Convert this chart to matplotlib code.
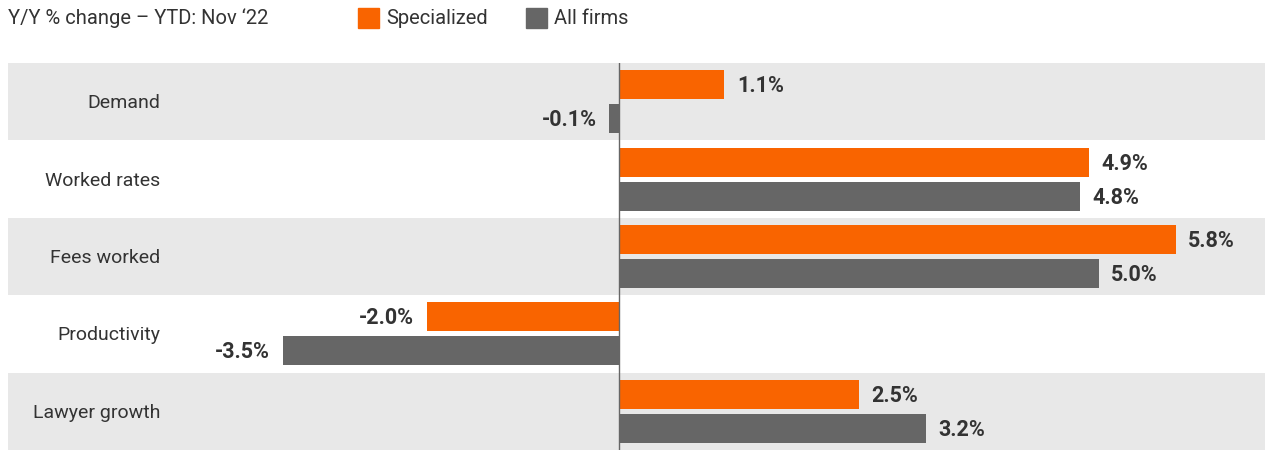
import matplotlib.pyplot as plt
from matplotlib.patches import Rectangle
import numpy as np

plt.rcParams["font.family"] = ["Roboto", "DejaVu Sans"]

categories = ["Demand", "Worked rates", "Fees worked", "Productivity", "Lawyer growth"]
specialized = [1.1, 4.9, 5.8, -2.0, 2.5]
all_firms = [-0.1, 4.8, 5.0, -3.5, 3.2]
series_names = ["Specialized", "All firms"]

orange = "#F96400"
gray = "#666666"
band = "#E8E8E8"
text_col = "#333333"

fig = plt.figure(figsize=(12.65, 4.5), dpi=100)
ax = fig.add_axes([8 / 1265, 0, 1257 / 1265, 387 / 450])

y = np.arange(len(categories))
off = 0.22
h = 0.375

for i in y:
    if i % 2 == 0:
        ax.axhspan(i - 0.5, i + 0.5, color=band, zorder=0, lw=0)

ax.barh(y - off, specialized, height=h, color=orange, zorder=2)
ax.barh(y + off, all_firms, height=h, color=gray, zorder=2)
ax.axvline(0, color=gray, lw=1, zorder=3)

pad = 0.13
for vals, dy in [(specialized, -off), (all_firms, off)]:
    for i, v in enumerate(vals):
        if v >= 0:
            ax.text(v + pad, i + dy + 0.02, f"{v:.1f}%", ha="left", va="center",
                    fontsize=15.5, fontweight="bold", color=text_col)
        else:
            ax.text(v - pad, i + dy + 0.02, f"{v:.1f}%", ha="right", va="center",
                    fontsize=15.5, fontweight="bold", color=text_col)

for i, c in enumerate(categories):
    ax.text(152 / 1257, i + 0.02, c, ha="right", va="center", fontsize=14,
            color=text_col, transform=ax.get_yaxis_transform())

ax.set_xlim(-6.36, 6.73)
ax.set_ylim(len(categories) - 0.5, -0.5)
ax.axis("off")

# title and legend
fig.text(8 / 1265, 1 - 18 / 450, "Y/Y % change \u2013 YTD: Nov \u201822", ha="left",
         va="center", fontsize=14.5, color=text_col)
for x0, col, name in [(358, orange, series_names[0]), (526, gray, series_names[1])]:
    fig.patches.append(Rectangle((x0 / 1265, 1 - 28 / 450), 21 / 1265, 20 / 450,
                                 color=col, transform=fig.transFigure))
    fig.text((x0 + 28) / 1265, 1 - 18 / 450, name, ha="left", va="center",
             fontsize=14.5, color=text_col)

fig.savefig("out.png", dpi=100)
